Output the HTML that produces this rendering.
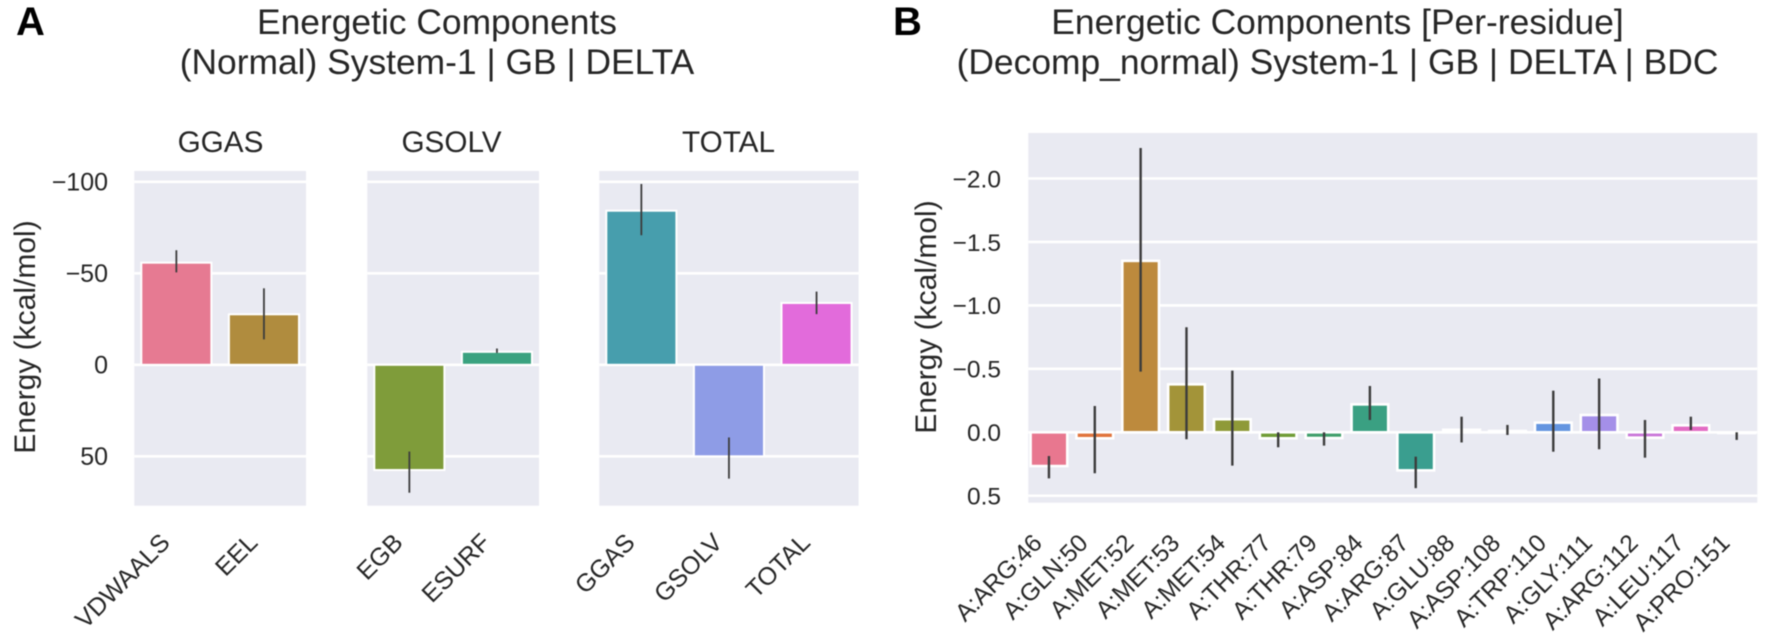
<!DOCTYPE html>
<html lang="en">
<head>
<meta charset="utf-8">
<title>Energetic Components</title>
<style>
html,body{margin:0;padding:0;background:#fff;width:1772px;height:641px;overflow:hidden}
svg{display:block;filter:blur(0.4px)}
text{font-family:"Liberation Sans",sans-serif;fill:#262626}
</style>
</head>
<body>
<svg id="chart" xmlns="http://www.w3.org/2000/svg" width="1772" height="641" viewBox="0 0 1772 641">
  <rect x="0" y="0" width="1772" height="641" fill="#ffffff"/>
  <text x="16" y="35" font-size="40" font-weight="bold" style="fill:#000">A</text>
  <text x="893" y="35" font-size="40" font-weight="bold" style="fill:#000">B</text>
  <text x="437" y="34" font-size="35.4" text-anchor="middle">Energetic Components</text>
  <text x="437" y="74" font-size="35.4" text-anchor="middle">(Normal) System-1 | GB | DELTA</text>
  <text x="1337.5" y="34" font-size="35.4" text-anchor="middle">Energetic Components [Per-residue]</text>
  <text x="1337.5" y="74" font-size="35.4" text-anchor="middle">(Decomp_normal) System-1 | GB | DELTA | BDC</text>
  <text x="220.5" y="152" font-size="29.7" text-anchor="middle">GGAS</text>
  <text x="451.5" y="152" font-size="29.7" text-anchor="middle">GSOLV</text>
  <text x="728.5" y="152" font-size="29.7" text-anchor="middle">TOTAL</text>
  <text transform="translate(35,337) rotate(-90)" font-size="30" text-anchor="middle">Energy (kcal/mol)</text>
  <text transform="translate(936,317) rotate(-90)" font-size="30" text-anchor="middle">Energy (kcal/mol)</text>
</svg>
<script>
// Panel A data
const ggasCategories = ['VDWAALS', 'EEL'];
const ggasValues = [-55.8, -27.6];
const ggasErrTop = [-62.6, -41.8];
const ggasErrBottom = [-50.5, -13.9];
const ggasColors = ['#e67a92', '#b08c3e'];

const gsolvCategories = ['EGB', 'ESURF'];
const gsolvValues = [57.5, -7.1];
const gsolvErrTop = [47.4, -8.9];
const gsolvErrBottom = [69.9, -6.5];
const gsolvColors = ['#7f9c3a', '#3aa27f'];

const totalCategories = ['GGAS', 'GSOLV', 'TOTAL'];
const totalValues = [-84.2, 50.0, -33.8];
const totalErrTop = [-98.8, 39.7, -40.0];
const totalErrBottom = [-70.8, 62.2, -27.7];
const totalColors = ['#479ead', '#8e9ce6', '#e26bdb'];

const energyTicks = [-100, -50, 0, 50];
const energyTickLabels = ['\u2212100', '\u221250', '0', '50'];

// Panel B data
const residueCategories = ['A:ARG:46', 'A:GLN:50', 'A:MET:52', 'A:MET:53', 'A:MET:54', 'A:THR:77', 'A:THR:79', 'A:ASP:84', 'A:ARG:87', 'A:GLU:88', 'A:ASP:108', 'A:TRP:110', 'A:GLY:111', 'A:ARG:112', 'A:LEU:117', 'A:PRO:151'];
const residueValues = [0.266, 0.047, -1.351, -0.378, -0.103, 0.047, 0.045, -0.22, 0.30, -0.02, -0.01, -0.076, -0.136, 0.042, -0.055, 0.006];
const residueErrTop = [0.187, -0.207, -2.24, -0.828, -0.486, 0.0, 0.0, -0.365, 0.192, -0.123, -0.058, -0.328, -0.424, -0.097, -0.123, 0.0];
const residueErrBottom = [0.363, 0.323, -0.478, 0.055, 0.263, 0.118, 0.105, -0.097, 0.44, 0.08, 0.021, 0.153, 0.134, 0.2, -0.018, 0.06];
const residueColors = ['#e8778f', '#e0733b', '#bd8a3d', '#a39439', '#8f9a38', '#6f9c36', '#3f9e6a', '#3aa082', '#3a9e8f', '#3a9fa0', '#45a0b8', '#6495e0', '#a48fe8', '#c974d8', '#e36bc4', '#e670a5'];
const residueTicks = [-2, -1.5, -1, -0.5, 0, 0.5];
const residueTickLabels = ['\u22122.0', '\u22121.5', '\u22121.0', '\u22120.5', '0.0', '0.5'];

const NS = 'http://www.w3.org/2000/svg';
const svg = document.getElementById('chart');

function make(tag, attrs, parent) {
  const el = document.createElementNS(NS, tag);
  for (const k in attrs) el.setAttribute(k, attrs[k]);
  parent.appendChild(el);
  return el;
}

// Axis functions
function yEnergy(v) { return 364.8 + v * 1.83; }
function yResidue(v) { return 432.3 + v * 126.9; }

function drawPanel(o) {
  const g = make('g', {}, svg);
  
  
  const x = function (i) { return o.left + (i + o.pad) * o.unit; };
  const right = o.left + (o.cats.length - 1 + 2 * o.pad) * o.unit;

  const bg = make('rect', { x: o.left, y: o.top, width: right - o.left, height: o.bottom - o.top, fill: '#e9eaf2' }, g);
  
  

  o.ticks.forEach(function (t, i) {
    const line = make('line', { x1: o.left, x2: right, y1: o.y(t), y2: o.y(t), stroke: '#ffffff', 'stroke-width': 2.6 }, g);
    
    
    if (o.tickX) {
      const lab = make('text', { x: o.tickX, y: o.y(t) + 8.8, 'font-size': o.tickSize, 'text-anchor': 'end' }, g);
      
      
      lab.textContent = o.tickLabels[i];
    }
  });

  o.cats.forEach(function (c, i) {
    const y0 = o.y(0), y1 = o.y(o.vals[i]);
    const w = o.unit * 0.8;
    const bar = make('rect', {
      x: x(i) - w / 2, y: Math.min(y0, y1), width: w, height: Math.abs(y1 - y0),
      fill: o.colors[i], stroke: '#ffffff', 'stroke-width': o.edge
    }, g);
    
    

    const err = make('line', {
      x1: x(i), x2: x(i), y1: o.y(o.errTop[i]), y2: o.y(o.errBottom[i]),
      stroke: '#3c3c3c', 'stroke-width': o.errWidth
    }, g);
    
    

    const ax = x(i) - o.labelShift, ay = o.labelY;
    const lab = make('text', {
      transform: 'translate(' + ax + ',' + ay + ') rotate(-45)',
      'font-size': o.labelSize, 'text-anchor': 'end'
    }, g);
    
    
    lab.textContent = c;
  });
}

const sharedA = { top: 171, bottom: 505.7, unit: 87.6, pad: 0.48, y: yEnergy, ticks: energyTicks, tickLabels: energyTickLabels, edge: 2, errWidth: 1.8, tickSize: 25, labelSize: 25, labelShift: 5, labelY: 544 };

drawPanel(Object.assign({}, sharedA, { name: 'ggas-panel', left: 134.3, cats: ggasCategories, vals: ggasValues, errTop: ggasErrTop, errBottom: ggasErrBottom, colors: ggasColors, tickX: 108 }));
drawPanel(Object.assign({}, sharedA, { name: 'gsolv-panel', left: 367.3, cats: gsolvCategories, vals: gsolvValues, errTop: gsolvErrTop, errBottom: gsolvErrBottom, colors: gsolvColors }));
drawPanel(Object.assign({}, sharedA, { name: 'total-panel', left: 599.3, cats: totalCategories, vals: totalValues, errTop: totalErrTop, errBottom: totalErrBottom, colors: totalColors }));

drawPanel({ name: 'per-residue-panel', left: 1028.3, top: 133, bottom: 502.7, unit: 45.85, pad: 0.45, y: yResidue, ticks: residueTicks, tickLabels: residueTickLabels, cats: residueCategories, vals: residueValues, errTop: residueErrTop, errBottom: residueErrBottom, colors: residueColors, edge: 2.6, errWidth: 2.4, tickX: 1001, tickSize: 24.5, labelSize: 24.6, labelShift: 5.5, labelY: 544.5 });
</script>
</body>
</html>
